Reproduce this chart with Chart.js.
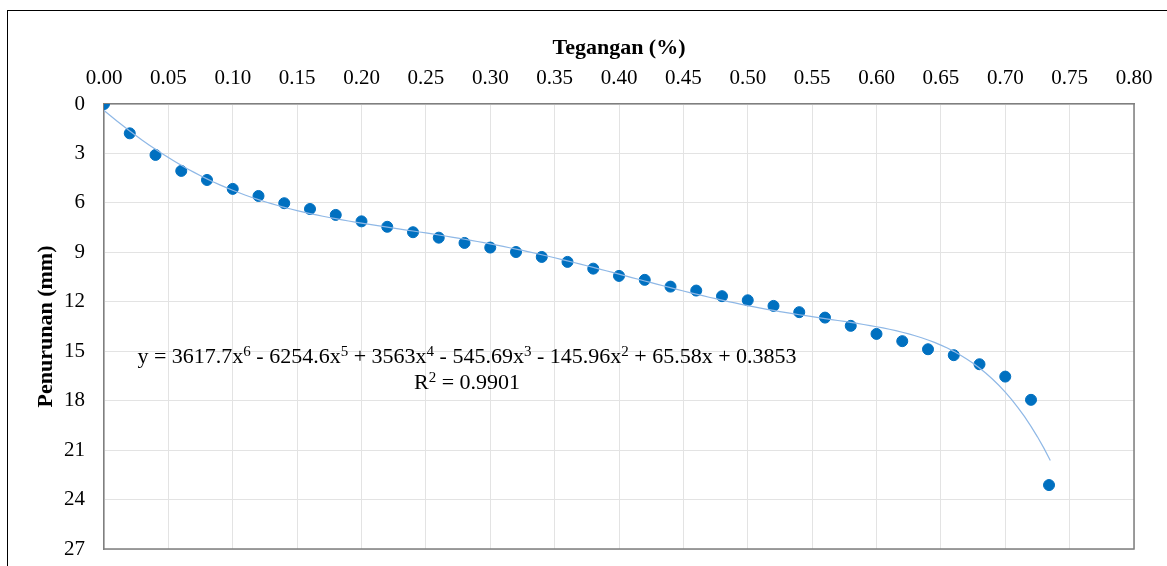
<!DOCTYPE html>
<html>
<head>
<meta charset="utf-8">
<script src="https://cdn.jsdelivr.net/npm/chart.js@4.4.1/dist/chart.umd.min.js"></script>
<style>
  html, body { margin: 0; padding: 0; background: #fff; }
  #wrap { width: 1167px; height: 566px; position: relative; }
</style>
</head>
<body>
<div id="wrap"><canvas id="chart" width="1167" height="566"></canvas></div>
<script>
// strain (%) and settlement (mm)
const tegangan = [0.00, 0.02, 0.04, 0.06, 0.08, 0.10, 0.12, 0.14, 0.16, 0.18,
  0.20, 0.22, 0.24, 0.26, 0.28, 0.30, 0.32, 0.34, 0.36, 0.38,
  0.40, 0.42, 0.44, 0.46, 0.48, 0.50, 0.52, 0.54, 0.56, 0.58,
  0.60, 0.62, 0.64, 0.66, 0.68, 0.70, 0.72, 0.734];
const penurunan = [0.00, 1.78, 3.09, 4.06, 4.61, 5.15, 5.58, 6.02, 6.37, 6.73,
  7.12, 7.45, 7.78, 8.11, 8.43, 8.71, 8.98, 9.28, 9.58, 9.99,
  10.43, 10.67, 11.08, 11.32, 11.66, 11.91, 12.25, 12.63, 12.96, 13.46,
  13.95, 14.39, 14.88, 15.24, 15.79, 16.54, 17.95, 23.12];

// polynomial trendline coefficients as printed on the chart (x^6 ... x^0)
const trendCoef = [3617.7, -6254.6, 3563, -545.69, -145.96, 65.58, 0.3853];
const trendX = [];
for (let i = 0; i <= 147; i++) trendX.push(i * 0.005);

// equation label, [text, superscript?]
const eqParts = [['y = 3617.7x', 0], ['6', 1], [' - 6254.6x', 0], ['5', 1],
  [' + 3563x', 0], ['4', 1], [' - 545.69x', 0], ['3', 1],
  [' - 145.96x', 0], ['2', 1], [' + 65.58x + 0.3853', 0]];
const r2Parts = [['R', 0], ['2', 1], [' = 0.9901', 0]];

const xTicks = [];
for (let i = 0; i <= 16; i++) xTicks.push(i * 0.05);

function poly(x) {
  return trendCoef.reduce((acc, c) => acc * x + c, 0);
}

const pts = tegangan.map((x, i) => ({ x: x, y: penurunan[i] }));
const trend = trendX.map(x => ({ x: x, y: poly(x) }));

const serif = "'Liberation Serif', 'Times New Roman', serif";

// draws text with small raised digits, centred on cx
function richText(ctx, parts, cx, cy, size) {
  const big = size + 'px ' + serif, small = Math.round(size * 0.7) + 'px ' + serif;
  let w = 0;
  parts.forEach(p => { ctx.font = p[1] ? small : big; w += ctx.measureText(p[0]).width; });
  let x = cx - w / 2;
  ctx.textAlign = 'left';
  ctx.textBaseline = 'alphabetic';
  parts.forEach(p => {
    ctx.font = p[1] ? small : big;
    ctx.fillText(p[0], x, p[1] ? cy - size * 0.33 : cy);
    x += ctx.measureText(p[0]).width;
  });
}

const decor = {
  id: 'decor',
  beforeDraw(chart) {
    const ctx = chart.ctx;
    ctx.save();
    ctx.strokeStyle = '#000';
    ctx.lineWidth = 1;
    ctx.strokeRect(7.5, 10.5, 1300, 700);
    ctx.restore();
  },
  afterDatasetsDraw(chart) {
    const ctx = chart.ctx;
    ctx.save();
    ctx.fillStyle = '#000';
    richText(ctx, eqParts, 467, 363, 22);
    richText(ctx, r2Parts, 467, 389, 22);
    ctx.restore();
  }
};

new Chart(document.getElementById('chart'), {
  type: 'scatter',
  data: {
    datasets: [{
      type: 'line',
      label: 'Poly.',
      data: trend,
      borderColor: '#8fb8e6',
      borderWidth: 1.2,
      pointRadius: 0,
      fill: false,
      tension: 0
    }, {
      label: 'Penurunan',
      data: pts,
      backgroundColor: '#0070C0',
      borderColor: '#0070C0',
      pointRadius: 5.5,
      pointHoverRadius: 5.5
    }]
  },
  options: {
    responsive: false,
    animation: false,
    layout: { padding: { left: 7, top: 10, right: 33, bottom: 17 } },
    plugins: {
      legend: { display: false },
      tooltip: { enabled: false }
    },
    scales: {
      x: {
        type: 'linear',
        position: 'top',
        min: 0,
        max: 0.8,
        afterFit: s => { s.height = 94; },
        afterBuildTicks: s => { s.ticks = xTicks.map(v => ({ value: v })); },
        ticks: {
          padding: 13,
          color: '#000',
          font: { family: serif, size: 21 },
          callback: v => v.toFixed(2)
        },
        grid: { color: '#e3e3e3', drawTicks: false },
        border: { color: '#7f7f7f', width: 1.5 },
        title: {
          display: true,
          text: 'Tegangan (%)',
          color: '#000',
          font: { family: serif, size: 22, weight: 'bold' },
          padding: { top: 25, bottom: 0 }
        }
      },
      y: {
        type: 'linear',
        reverse: true,
        min: 0,
        max: 27,
        afterFit: s => { s.width = 97; s.paddingTop = 0; s.paddingBottom = 0; },
        ticks: {
          stepSize: 3,
          padding: 19,
          color: '#000',
          font: { family: serif, size: 21 }
        },
        grid: { color: '#e3e3e3', drawTicks: false },
        border: { color: '#7f7f7f', width: 1.5 },
        title: {
          display: true,
          text: 'Penurunan (mm)',
          color: '#000',
          font: { family: serif, size: 22, weight: 'bold' },
          padding: { top: 26, bottom: 0 }
        }
      }
    }
  },
  plugins: [decor, {
    id: 'frame',
    afterDraw(chart) {
      const a = chart.chartArea, ctx = chart.ctx;
      ctx.save();
      ctx.strokeStyle = '#7f7f7f';
      ctx.lineWidth = 1.5;
      ctx.beginPath();
      ctx.moveTo(a.right, a.top);
      ctx.lineTo(a.right, a.bottom);
      ctx.lineTo(a.left, a.bottom);
      ctx.stroke();
      ctx.restore();
    }
  }]
});
</script>
</body>
</html>
